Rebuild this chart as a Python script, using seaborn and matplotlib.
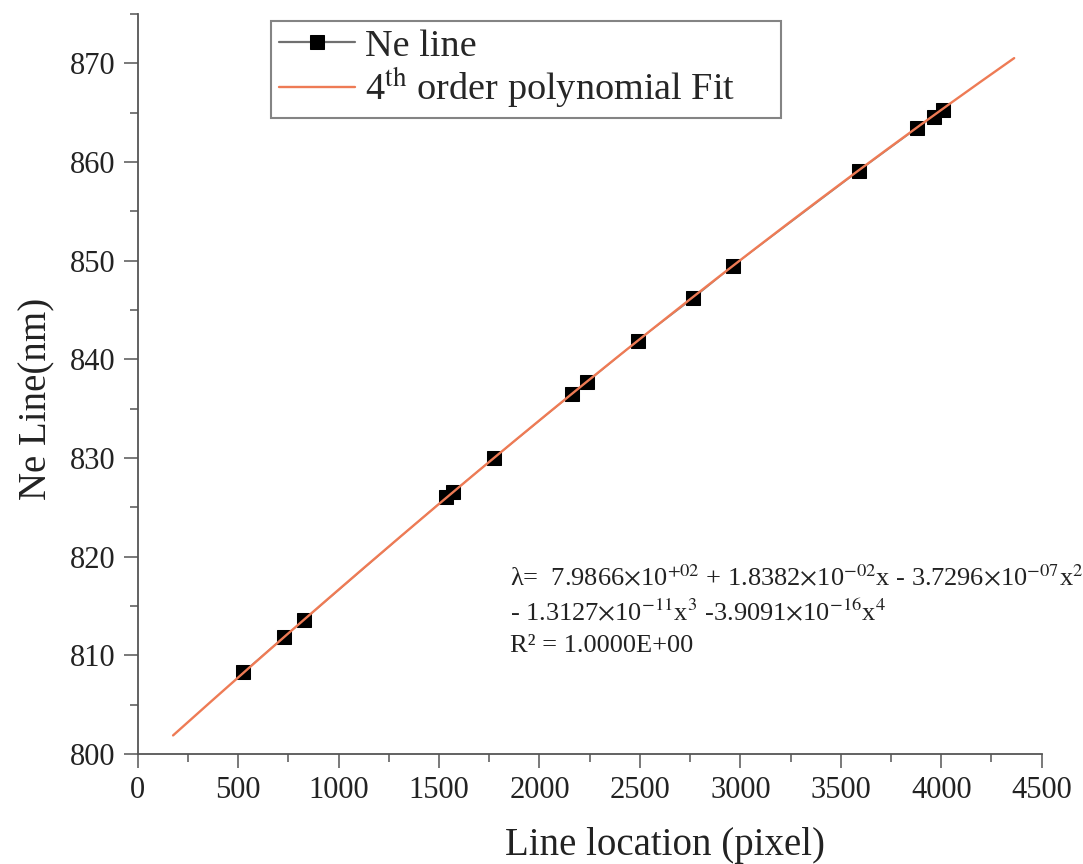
import numpy as np
import matplotlib
matplotlib.use("Agg")
import matplotlib.pyplot as plt
from matplotlib.ticker import MultipleLocator
import seaborn as sns

# Ne calibration lines
pixel = [526, 730, 829, 1535, 1571, 1773, 2163, 2238, 2489, 2766, 2965, 3590, 3878, 3964, 4010]
ne_nm = [808.3, 811.9, 813.6, 826.0, 826.6, 830.0, 836.5, 837.7, 841.9, 846.2, 849.5, 859.1, 863.4, 864.6, 865.3]

# 4th order fit as printed on the chart (highest power first)
fit_coef = [-3.9091e-16, -1.3127e-11, -3.7296e-07, 1.8382e-02, 7.9866e+02]
fit_start, fit_end = 176, 4363

sns.set_theme(style="ticks")
plt.rcParams["font.family"] = ["Liberation Serif", "DejaVu Serif"]
plt.rcParams["mathtext.fontset"] = "stix"

fit_x = np.linspace(fit_start, fit_end, 200)
fit_y = np.polyval(fit_coef, fit_x)

fig = plt.figure(figsize=(10.83, 8.64), dpi=100)
ax = fig.add_axes([137.7 / 1083, 110 / 864, 904 / 1083, 740 / 864])

sns.lineplot(x=pixel, y=ne_nm, ax=ax, color="#808080", lw=0.9, marker="s",
             markersize=10.5, markerfacecolor="black", markeredgecolor="black",
             label="Ne line", zorder=2)
sns.lineplot(x=fit_x, y=fit_y, ax=ax, color="#EE7B55", lw=1.7, zorder=3,
             label=r"4$^{\mathrm{th}}$ order polynomial Fit     ")

ax.set_xlim(0, 4500)
ax.set_ylim(800, 875)
ax.xaxis.set_major_locator(MultipleLocator(500))
ax.xaxis.set_minor_locator(MultipleLocator(250))
ax.yaxis.set_minor_locator(MultipleLocator(5))
ax.set_yticks([800, 810, 820, 830, 840, 850, 860, 870])

sns.despine(ax=ax)
for s in ["left", "bottom"]:
    ax.spines[s].set_color("#555555")
    ax.spines[s].set_linewidth(1.3)
ax.tick_params(which="major", direction="out", length=10, width=1.1,
               color="#555555", labelsize=22, labelcolor="#222222", pad=6)
ax.tick_params(which="minor", direction="out", length=6, width=1.1, color="#555555")

ax.set_xlabel("Line location (pixel)", fontsize=28, color="#222222", va="center")
ax.set_ylabel("Ne Line(nm)", fontsize=28, color="#222222", va="center")
ax.xaxis.set_label_coords(0.583, -0.123)
ax.yaxis.set_label_coords(-0.112, 0.48)

leg = ax.legend(loc="upper left", bbox_to_anchor=(0.1475, 0.99), fontsize=27.5,
                frameon=True, fancybox=False, edgecolor="#666666",
                handlelength=2.0, handletextpad=0.25, borderpad=0.2,
                labelspacing=0.05, borderaxespad=0)
leg.get_frame().set_linewidth(1.5)
leg.legend_handles[0].set_linewidth(1.6)
leg.legend_handles[0].set_color("#707070")

eq = ["λ=  7.9866$\\times$10$^{+02}$ + 1.8382$\\times$10$^{-02}$x - 3.7296$\\times$10$^{-07}$x$^{2}$",
      "- 1.3127$\\times$10$^{-11}$x$^{3}$ -3.9091$\\times$10$^{-16}$x$^{4}$",
      "R² = 1.0000E+00"]
for i, line in enumerate(eq):
    ax.text(1853, 817.8 - 3.45 * i, line, fontsize=19, color="#222222",
            va="center", ha="left", clip_on=False)

fig.savefig("out.png", dpi=100, facecolor="white")
